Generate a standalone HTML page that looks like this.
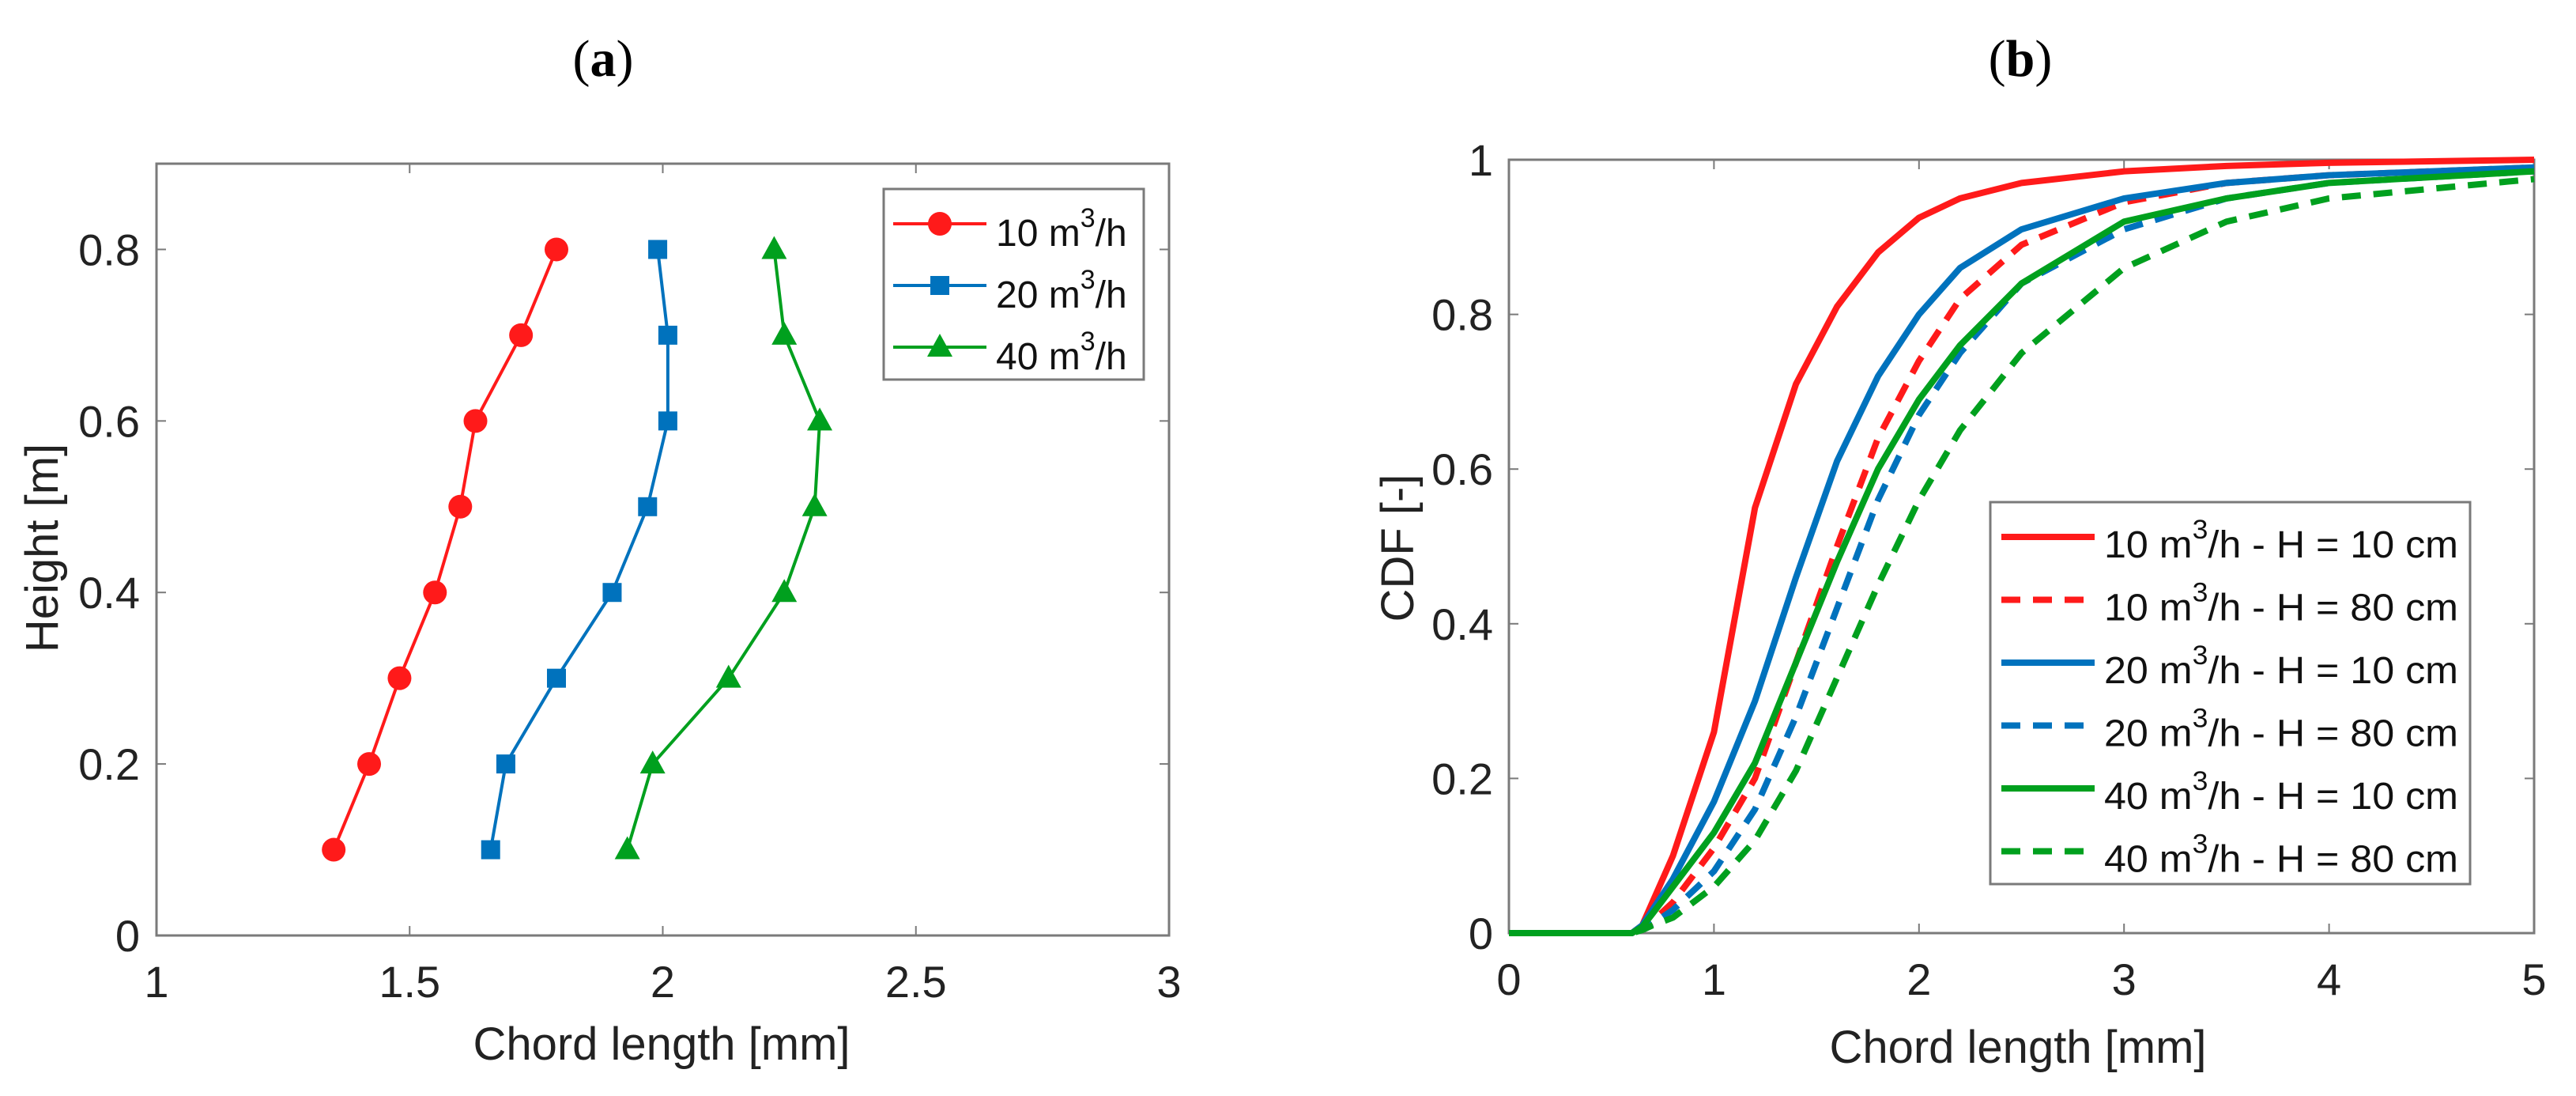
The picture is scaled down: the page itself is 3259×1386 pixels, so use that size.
<!DOCTYPE html>
<html><head><meta charset="utf-8"><style>
html,body{margin:0;padding:0;background:#fff;}
svg{display:block;font-family:"Liberation Sans",sans-serif;}
</style></head><body>
<svg id="fig" width="3259" height="1386" viewBox="0 0 3259 1386" xmlns="http://www.w3.org/2000/svg">
<rect width="3259" height="1386" fill="#fff"/>
<text x="763" y="96" font-family="Liberation Serif,serif" font-size="66" text-anchor="middle">(<tspan font-weight="bold">a</tspan>)</text>
<text x="2556" y="96" font-family="Liberation Serif,serif" font-size="66" text-anchor="middle">(<tspan font-weight="bold">b</tspan>)</text>
<g id="A"></g>
<g id="B"></g>
</svg>
<script>
// ---- Chart A data ----
const heights = [0.1,0.2,0.3,0.4,0.5,0.6,0.7,0.8];
const chord10 = [1.35,1.42,1.48,1.55,1.60,1.63,1.72,1.79];
const chord20 = [1.66,1.69,1.79,1.90,1.97,2.01,2.01,1.99];
const chord40 = [1.93,1.98,2.13,2.24,2.30,2.31,2.24,2.22];
const aXTicks = [1,1.5,2,2.5,3];
const aXTickLabels = ["1","1.5","2","2.5","3"];
const aYTicks = [0,0.2,0.4,0.6,0.8];
const aYTickLabels = ["0","0.2","0.4","0.6","0.8"];
const aLegend = ["10","20","40"];
// ---- Chart B data ----
const cdfX = [0,0.6,0.65,0.7,0.8,1.0,1.2,1.4,1.6,1.8,2.0,2.2,2.5,3.0,3.5,4.0,5.0];
const cdf10h10 = [0,0,0.01,0.04,0.10,0.26,0.55,0.71,0.81,0.88,0.925,0.95,0.97,0.985,0.992,0.996,1.0];
const cdf10h80 = [0,0,0.005,0.015,0.04,0.11,0.20,0.35,0.50,0.64,0.74,0.82,0.89,0.945,0.97,0.98,0.99];
const cdf20h10 = [0,0,0.01,0.03,0.07,0.17,0.30,0.46,0.61,0.72,0.80,0.86,0.91,0.95,0.97,0.98,0.99];
const cdf20h80 = [0,0,0.005,0.012,0.03,0.08,0.16,0.28,0.42,0.56,0.67,0.75,0.84,0.91,0.95,0.97,0.985];
const cdf40h10 = [0,0,0.008,0.025,0.06,0.13,0.22,0.35,0.48,0.60,0.69,0.76,0.84,0.92,0.95,0.97,0.985];
const cdf40h80 = [0,0,0.004,0.01,0.02,0.06,0.12,0.21,0.33,0.45,0.56,0.65,0.75,0.86,0.92,0.95,0.975];
const bXTicks = [0,1,2,3,4,5];
const bXTickLabels = ["0","1","2","3","4","5"];
const bYTicks = [0,0.2,0.4,0.6,0.8,1];
const bYTickLabels = ["0","0.2","0.4","0.6","0.8","1"];
const bLegendRates = ["10","10","20","20","40","40"];
const bLegendH = ["10","80","10","80","10","80"];

const NS="http://www.w3.org/2000/svg";
const RED="#ff1a1a", BLUE="#0072bd", GREEN="#00a01e";
function mk(parent,tag,attrs){const e=document.createElementNS(NS,tag);for(const k in attrs)e.setAttribute(k,attrs[k]);parent.appendChild(e);return e;}

// ---------- Chart A ----------
const A=document.getElementById('A');
const aL=198,aR=1479,aT=207,aB=1183;
const ax=v=>aL+(v-1)/(3-1)*(aR-aL);
const ay=v=>aB-(v-0)/(0.9-0)*(aB-aT);
let e;
e=mk(A,'rect',{x:aL,y:aT,width:aR-aL,height:aB-aT,fill:'none',stroke:'#7a7a7a','stroke-width':3});


aXTicks.forEach((t,i)=>{
  mk(A,'line',{x1:ax(t),x2:ax(t),y1:aB,y2:aB-12,stroke:'#7a7a7a','stroke-width':2});
  mk(A,'line',{x1:ax(t),x2:ax(t),y1:aT,y2:aT+12,stroke:'#7a7a7a','stroke-width':2});
  e=mk(A,'text',{x:ax(t),y:aB+78,'font-size':56,'text-anchor':'middle',fill:'#222'});
  e.textContent=aXTickLabels[i];
  
  
});
aYTicks.forEach((t,i)=>{
  mk(A,'line',{x1:aL,x2:aL+12,y1:ay(t),y2:ay(t),stroke:'#7a7a7a','stroke-width':2});
  mk(A,'line',{x1:aR,x2:aR-12,y1:ay(t),y2:ay(t),stroke:'#7a7a7a','stroke-width':2});
  e=mk(A,'text',{x:177,y:ay(t)+20,'font-size':56,'text-anchor':'end',fill:'#222'});
  e.textContent=aYTickLabels[i];
  
  
});
e=mk(A,'text',{x:837,y:1340,'font-size':58,'text-anchor':'middle',fill:'#222'});
e.textContent='Chord length [mm]';


e=mk(A,'text',{x:73,y:693,'font-size':58,'text-anchor':'middle',fill:'#222',transform:'rotate(-90 73 693)'});
e.textContent='Height [m]';



function marker(g,type,x,y,color){
  let m;
  if(type==='circle') m=mk(g,'circle',{cx:x,cy:y,r:15,fill:color});
  else if(type==='square') m=mk(g,'rect',{x:x-12,y:y-12,width:24,height:24,fill:color});
  else m=mk(g,'polygon',{points:`${x},${y-17} ${x+16},${y+12} ${x-16},${y+12}`,fill:color});
  return m;
}
const aSeries=[[chord10,RED,'circle'],[chord20,BLUE,'square'],[chord40,GREEN,'triangle']];
aSeries.forEach((s,si)=>{
  const g=mk(A,'g',{});
  
  
  const pts=s[0].map((v,i)=>ax(v)+','+ay(heights[i])).join(' ');
  mk(g,'polyline',{points:pts,fill:'none',stroke:s[1],'stroke-width':4});
  s[0].forEach((v,i)=>{
    const m=marker(g,s[2],ax(v),ay(heights[i]),s[1]);
    
    
  });
});
// legend A
const lgA=mk(A,'g',{});


mk(lgA,'rect',{x:1118,y:239,width:329,height:241,fill:'#fff',stroke:'#7a7a7a','stroke-width':3});
aSeries.forEach((s,i)=>{
  const y=283+i*78;
  const g=mk(lgA,'g',{});
  
  
  mk(g,'line',{x1:1130,x2:1248,y1:y,y2:y,stroke:s[1],'stroke-width':4});
  marker(g,s[2],1189,y,s[1]);
  const t=mk(g,'text',{x:1260,y:y+28,'font-size':48,fill:'#111'});
  t.innerHTML=aLegend[i]+' m<tspan dy="-24" font-size="34">3</tspan><tspan dy="24">/h</tspan>';
});

// ---------- Chart B ----------
const B=document.getElementById('B');
const bL=1909,bR=3206,bT=202,bB=1180;
const bx=v=>bL+(v-0)/(5-0)*(bR-bL);
const by=v=>bB-(v-0)/(1-0)*(bB-bT);
e=mk(B,'rect',{x:bL,y:bT,width:bR-bL,height:bB-bT,fill:'none',stroke:'#7a7a7a','stroke-width':3});


bXTicks.forEach((t,i)=>{
  mk(B,'line',{x1:bx(t),x2:bx(t),y1:bB,y2:bB-12,stroke:'#7a7a7a','stroke-width':2});
  mk(B,'line',{x1:bx(t),x2:bx(t),y1:bT,y2:bT+12,stroke:'#7a7a7a','stroke-width':2});
  e=mk(B,'text',{x:bx(t),y:bB+78,'font-size':56,'text-anchor':'middle',fill:'#222'});
  e.textContent=bXTickLabels[i];
  
  
});
bYTicks.forEach((t,i)=>{
  mk(B,'line',{x1:bL,x2:bL+12,y1:by(t),y2:by(t),stroke:'#7a7a7a','stroke-width':2});
  mk(B,'line',{x1:bR,x2:bR-12,y1:by(t),y2:by(t),stroke:'#7a7a7a','stroke-width':2});
  e=mk(B,'text',{x:1889,y:by(t)+20,'font-size':56,'text-anchor':'end',fill:'#222'});
  e.textContent=bYTickLabels[i];
  
  
});
e=mk(B,'text',{x:2553,y:1344,'font-size':58,'text-anchor':'middle',fill:'#222'});
e.textContent='Chord length [mm]';


e=mk(B,'text',{x:1788,y:693,'font-size':58,'text-anchor':'middle',fill:'#222',transform:'rotate(-90 1788 693)'});
e.textContent='CDF [-]';



const bSeries=[[cdf10h10,RED,false],[cdf10h80,RED,true],[cdf20h10,BLUE,false],[cdf20h80,BLUE,true],[cdf40h10,GREEN,false],[cdf40h80,GREEN,true]];
const drawOrder=[1,3,5,0,2,4];
drawOrder.forEach(si=>{
  const s=bSeries[si];
  const attrs={points:s[0].map((v,i)=>bx(cdfX[i])+','+by(v)).join(' '),fill:'none',stroke:s[1],'stroke-width':8,'stroke-linejoin':'round'};
  if(s[2]) attrs['stroke-dasharray']='24 16';
  const p=mk(B,'polyline',attrs);
  
  
});
const lgB=mk(B,'g',{});


mk(lgB,'rect',{x:2518,y:635,width:607,height:483,fill:'#fff',stroke:'#7a7a7a','stroke-width':3});
bSeries.forEach((s,i)=>{
  const y=679+i*79.5;
  const g=mk(lgB,'g',{});
  
  
  const la={x1:2532,x2:2650,y1:y,y2:y,stroke:s[1],'stroke-width':8};
  if(s[2]) la['stroke-dasharray']='24 16';
  mk(g,'line',la);
  const t=mk(g,'text',{x:2662,y:y+26,'font-size':48,fill:'#111',textLength:448,lengthAdjust:'spacingAndGlyphs'});
  t.innerHTML=bLegendRates[i]+' m<tspan dy="-24" font-size="34">3</tspan><tspan dy="24">/h - H = '+bLegendH[i]+' cm</tspan>';
});
</script>
</body></html>
